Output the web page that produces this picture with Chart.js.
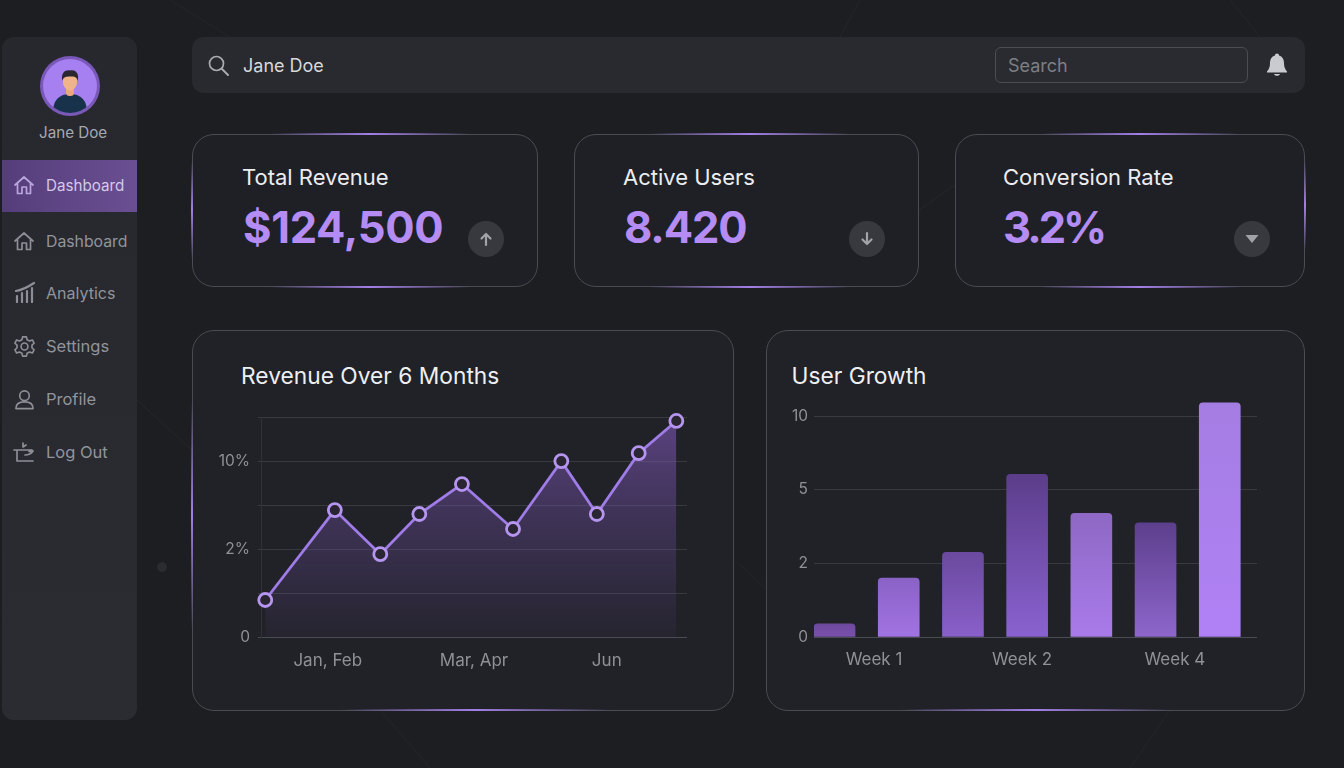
<!DOCTYPE html>
<html>
<head>
<meta charset="utf-8">
<title>Dashboard</title>
<script src="https://cdn.jsdelivr.net/npm/chart.js@4"></script>
<style>
  * { box-sizing: border-box; }
  html, body { margin: 0; width: 1344px; height: 768px; overflow: hidden; background: #1c1e22; font-family: Inter, sans-serif; }
  .abs, .card, .glow, .txt, canvas, svg { position: absolute; }
  .txt { white-space: nowrap; line-height: 1; }
  .sidebar { position: absolute; left: 2px; top: 37px; width: 135px; height: 683px; border-radius: 12px; background: linear-gradient(180deg, #26282d, #2a2c32); }
  .active { position: absolute; left: 2px; top: 160px; width: 135px; height: 52px; background: linear-gradient(90deg, #553d7a, #6a4f92); }
  .topbar { position: absolute; left: 192px; top: 37px; width: 1113px; height: 56px; border-radius: 12px; background: #282a2f; }
  .search { position: absolute; left: 995px; top: 47px; width: 253px; height: 36px; border: 1px solid #4b4d52; border-radius: 6px; background: #292b30; }
  .card { border: 1px solid #4a4b53; border-radius: 22px; background: #1e2025; }
  .card.big { background: #202227; }
  .glow { background: linear-gradient(90deg, transparent, #a27fe6, transparent); height: 2px; }
  .glow.v { background: linear-gradient(180deg, transparent, #a27fe6, transparent); height: auto; width: 2px; }
  .nav { font-size: 16.5px; color: #92949b; }
  .kpi-title { font-size: 22px; color: #ecedf0; }
  .kpi-value { font-size: 43.5px; font-weight: 700; color: #b48cf4; }
  .chart-title { font-size: 22.75px; color: #eeeff2; }
  .dot { position: absolute; width: 36px; height: 36px; border-radius: 50%; background: #38393e; }
  .ico { fill: none; stroke: #8d8f96; stroke-width: 1.7; stroke-linecap: round; stroke-linejoin: round; }
</style>
</head>
<body>

<svg style="left:0;top:0" width="1344" height="768">
  <g stroke="#24262b" stroke-width="1" fill="none">
    <path d="M170 0 L230 37 M860 0 L840 37 M1230 0 L1260 37 M919 210 L955 185 M735 560 L767 590 M380 710 L430 768 M1170 710 L1130 768 M137 400 L192 450"/>
  </g>
  <circle cx="162" cy="567" r="5" fill="#2a2c32"/>
</svg>

<div class="sidebar"></div>
<div class="active"></div>

<svg style="left:40px;top:56px" width="60" height="60" viewBox="0 0 60 60">
  <defs><clipPath id="av"><circle cx="30" cy="30" r="27"/></clipPath></defs>
  <circle cx="30" cy="30" r="30" fill="#7a58b8"/>
  <circle cx="30" cy="30" r="27" fill="#a67ff0"/>
  <g clip-path="url(#av)">
    <path d="M13 56 C13 42 22 38 30 38 C38 38 47 42 47 56 L47 60 L13 60 Z" fill="#17324a"/>
    <rect x="26" y="28" width="8" height="12" rx="3.5" fill="#e9a77c"/>
    <ellipse cx="30" cy="25" rx="7.2" ry="9.5" fill="#f0b48a"/>
    <path d="M22.3 25 C20.5 16 26 13.5 30.5 14.5 C36 13.5 39.5 18 37.7 25 C37 21 34.5 20.5 30 20.5 C26 20.5 23.3 21 22.3 25 Z" fill="#2a2730"/>
  </g>
</svg>
<div class="txt" style="left:39px;top:125px;font-size:15.2px;color:#a7a8ae">Jane Doe</div>

<svg class="ico" style="left:13px;top:174px;stroke:#b9a6dc" width="22" height="22" viewBox="0 0 22 22"><path d="M2 11 L11 3 L20 11 M4.5 9.5 V19.5 H9 V13 H13.5 V19.5 H17.5 V9.5"/></svg>
<div class="txt nav" style="left:46px;top:178px;color:#d4c8ea;font-size:15.2px">Dashboard</div>
<svg class="ico" style="left:13px;top:230px" width="22" height="22" viewBox="0 0 22 22"><path d="M2 11 L11 3 L20 11 M4.5 9.5 V19.5 H9 V13 H13.5 V19.5 H17.5 V9.5"/></svg>
<div class="txt nav" style="left:46px;top:234px;font-size:15.8px">Dashboard</div>
<svg class="ico" style="left:14px;top:281px" width="22" height="22" viewBox="0 0 22 22"><path d="M2 10 C8 9 14 6 20 2 M3 21 V15 M8 21 V12 M13 21 V10 M18 21 V7" stroke-width="2.2"/></svg>
<div class="txt nav" style="left:46px;top:285px;font-size:16px">Analytics</div>
<svg class="ico" style="left:13px;top:335px" width="23" height="23" viewBox="0 0 24 24"><circle cx="12" cy="12" r="3.6"/><path d="M10 2 H14 L14.7 5 L17.3 6.3 L20.2 5.2 L22 8.6 L19.8 10.6 V13.4 L22 15.4 L20.2 18.8 L17.3 17.7 L14.7 19 L14 22 H10 L9.3 19 L6.7 17.7 L3.8 18.8 L2 15.4 L4.2 13.4 V10.6 L2 8.6 L3.8 5.2 L6.7 6.3 L9.3 5 Z"/></svg>
<div class="txt nav" style="left:46px;top:338px">Settings</div>
<svg class="ico" style="left:14px;top:389px" width="21" height="21" viewBox="0 0 22 22"><circle cx="11" cy="7" r="5"/><path d="M2 20.5 C2 15 6 13.5 11 13.5 C16 13.5 20 15 20 20.5 Z"/></svg>
<div class="txt nav" style="left:46px;top:391px">Profile</div>
<svg class="ico" style="left:13px;top:441px" width="23" height="22" viewBox="0 0 23 22"><path d="M1 9 H19 M4 9 V20 H20 M10 2 V6 L13 4 M12 14 C15 14 18 13 20 10 M20 10 L16 10.5"/></svg>
<div class="txt nav" style="left:46px;top:444px">Log Out</div>

<div class="topbar"></div>
<svg class="ico" style="left:207px;top:54px;stroke:#a9abb1" width="23" height="23" viewBox="0 0 23 23"><circle cx="9.5" cy="9.5" r="7"/><path d="M15 15 L21 21" stroke-width="2"/></svg>
<div class="txt" style="left:243px;top:57px;font-size:18px;color:#d7d8dc">Jane Doe</div>
<div class="search"></div>
<div class="txt" style="left:1008px;top:57px;font-size:18px;color:#7d7f85">Search</div>
<svg style="left:1266px;top:52px" width="22" height="26" viewBox="0 0 22 26"><path d="M11 1.5 C12.3 1.5 13 2.4 13 3.4 C16.5 4.4 18 7.4 18 11 C18 15 19 17 21 19.5 V20.5 H1 V19.5 C3 17 4 15 4 11 C4 7.4 5.5 4.4 9 3.4 C9 2.4 9.7 1.5 11 1.5 Z M8 22 H14 C13.5 24.4 8.5 24.4 8 22 Z" fill="#c9cbd1"/></svg>

<!-- KPI cards -->
<div class="card" style="left:192px;top:134px;width:346px;height:153px"></div>
<div class="glow" style="left:270px;top:133px;width:200px"></div>
<div class="glow" style="left:270px;top:286px;width:200px"></div>
<div class="glow v" style="left:191px;top:160px;height:100px"></div>
<div class="txt kpi-title" style="left:242px;top:166px">Total Revenue</div>
<div class="txt kpi-value" style="left:243px;top:206px;letter-spacing:-0.3px">$124,500</div>
<div class="dot" style="left:468px;top:221px"></div>
<svg class="ico" style="left:478px;top:231px;stroke:#a2a3a7" width="16" height="16" viewBox="0 0 16 16"><path d="M8 14 V3 M3.5 7.5 L8 3 L12.5 7.5" stroke-width="2.2"/></svg>

<div class="card" style="left:574px;top:134px;width:345px;height:153px"></div>
<div class="glow" style="left:650px;top:133px;width:200px"></div>
<div class="glow" style="left:650px;top:286px;width:200px"></div>
<div class="txt kpi-title" style="left:623px;top:166px">Active Users</div>
<div class="txt kpi-value" style="left:624px;top:206px;letter-spacing:-1.1px">8.420</div>
<div class="dot" style="left:849px;top:221px"></div>
<svg class="ico" style="left:859px;top:231px;stroke:#a2a3a7" width="16" height="16" viewBox="0 0 16 16"><path d="M8 2 V13 M3.5 8.5 L8 13 L12.5 8.5" stroke-width="2.2"/></svg>

<div class="card" style="left:955px;top:134px;width:350px;height:153px"></div>
<div class="glow" style="left:1040px;top:133px;width:200px"></div>
<div class="glow" style="left:1040px;top:286px;width:200px"></div>
<div class="glow v" style="left:1304px;top:160px;height:90px"></div>
<div class="txt kpi-title" style="left:1003px;top:166px">Conversion Rate</div>
<div class="txt kpi-value" style="left:1003px;top:206px;letter-spacing:-3px">3.2%</div>
<div class="dot" style="left:1234px;top:221px"></div>
<svg style="left:1244px;top:233px" width="16" height="12" viewBox="0 0 16 12"><path d="M1.5 2 H14.5 L8 10 Z" fill="#a2a3a7"/></svg>

<!-- chart cards -->
<div class="card big" style="left:192px;top:330px;width:542px;height:381px"></div>
<div class="glow" style="left:340px;top:709px;width:270px"></div>
<div class="glow v" style="left:191px;top:400px;height:230px"></div>
<div class="txt chart-title" style="left:241px;top:365px">Revenue Over 6 Months</div>
<canvas id="lineChart" style="left:200px;top:405px"></canvas>

<div class="card big" style="left:766px;top:330px;width:539px;height:381px"></div>
<div class="glow" style="left:900px;top:709px;width:270px"></div>
<div class="txt chart-title" style="left:791.5px;top:365px">User Growth</div>
<canvas id="barChart" style="left:775px;top:395px"></canvas>

<script>
// Revenue chart. The y axis is unevenly labelled, so values are in gridline steps
const revenueX = [0.06, 1.04, 1.68, 2.23, 2.83, 3.55, 4.23, 4.73, 5.32, 5.85];
const revenueY = [0.85, 2.89, 1.89, 2.80, 3.48, 2.46, 4.00, 2.80, 4.18, 4.91];
const revenueYLabels = ["0", "", "2%", "", "10%", ""];
const revenueXLabels = ["Jan, Feb", "Mar, Apr", "Jun"];
const revenueXTicks = [0.94, 3.0, 4.87];

// User growth chart, same idea: y is in gridline steps
const growthX = [0, 1, 2, 3, 4, 5, 6];
const growthY = [0.18, 0.80, 1.15, 2.21, 1.68, 1.55, 3.18];
const growthYLabels = ["0", "2", "5", "10"];
const growthXLabels = ["Week 1", "Week 2", "Week 4"];
const growthXTicks = [0.615, 2.92, 5.3];

// Bar colours, top and bottom of each gradient
const barTop = ["#6d4a9c", "#8a62c6", "#6a4a9e", "#5b3d8a", "#8e68c4", "#5c3f8c", "#a47de2"];
const barBottom = ["#7a50ac", "#a273e2", "#8a5fca", "#8a62d0", "#a97bea", "#8e66cc", "#b081f5"];

const tickFont = { family: "Inter", size: 17 };
const tickColor = "#8f9197";
const gridColor = "#383a40";

function setSize(canvas, w, h) {
  canvas.style.width = w + "px";
  canvas.style.height = h + "px";
  canvas.width = w;
  canvas.height = h;
}

// stop the tick labels from pushing the plot area around
function noPadding(axis) {
  axis.paddingTop = 0;
  axis.paddingBottom = 0;
  axis.paddingLeft = 0;
  axis.paddingRight = 0;
}

function areaFill(context) {
  const { chart } = context;
  if (!chart.chartArea) return "transparent";
  const y = chart.scales.y;
  const g = chart.ctx.createLinearGradient(0, y.getPixelForValue(4.91), 0, y.getPixelForValue(0));
  g.addColorStop(0, "rgba(129, 89, 186, 0.6)");
  g.addColorStop(0.45, "rgba(120, 83, 174, 0.35)");
  g.addColorStop(1, "rgba(120, 83, 174, 0.06)");
  return g;
}

function barFill(context) {
  const { chart, dataIndex } = context;
  if (!chart.chartArea || dataIndex === undefined) return barBottom[0];
  const y = chart.scales.y;
  const g = chart.ctx.createLinearGradient(0, y.getPixelForValue(growthY[dataIndex]), 0, y.getPixelForValue(0));
  g.addColorStop(0, barTop[dataIndex]);
  g.addColorStop(1, barBottom[dataIndex]);
  return g;
}

setSize(document.getElementById("lineChart"), 520, 270);
setSize(document.getElementById("barChart"), 520, 285);

new Chart(document.getElementById("lineChart"), {
  type: "line",
  data: {
    datasets: [{
      data: revenueX.map((x, i) => ({ x, y: revenueY[i] })),
      borderColor: "#a07ce8",
      borderWidth: 2.8,
      backgroundColor: areaFill,
      fill: "origin",
      tension: 0,
      clip: false,
      pointRadius: 6.5,
      pointBorderWidth: 2.8,
      pointBorderColor: "#b595f0",
      pointBackgroundColor: "#2a2532",
    }],
  },
  options: {
    responsive: false,
    animation: false,
    layout: { padding: { top: 12, right: 33, left: 0, bottom: 0 } },
    plugins: { legend: { display: false }, tooltip: { enabled: false } },
    scales: {
      x: {
        type: "linear",
        min: 0,
        max: 6,
        afterBuildTicks: (axis) => { axis.ticks = revenueXTicks.map((value) => ({ value })); },
        afterFit: (axis) => { axis.height = 37.5; noPadding(axis); },
        grid: { display: false },
        border: { display: false },
        ticks: {
          autoSkip: false,
          maxRotation: 0,
          padding: 5,
          font: tickFont,
          color: tickColor,
          callback: (v) => revenueXLabels[revenueXTicks.indexOf(v)],
        },
      },
      y: {
        min: 0,
        max: 5,
        afterBuildTicks: (axis) => { axis.ticks = revenueYLabels.map((_, value) => ({ value })); },
        afterFit: (axis) => { axis.width = 61; noPadding(axis); },
        grid: {
          color: (c) => (c.index === 0 ? "#4a4c54" : gridColor),
          drawTicks: true,
          tickLength: 3,
        },
        border: { display: true, color: "#303238" },
        ticks: {
          padding: 8,
          font: { family: "Inter", size: 15.5 },
          color: tickColor,
          callback: (v) => revenueYLabels[v],
        },
      },
    },
  },
});

new Chart(document.getElementById("barChart"), {
  type: "bar",
  data: {
    datasets: [{
      data: growthX.map((x, i) => ({ x, y: growthY[i] })),
      backgroundColor: barFill,
      barThickness: 41,
      borderRadius: { topLeft: 4, topRight: 4 },
      borderSkipped: "bottom",
    }],
  },
  options: {
    responsive: false,
    animation: false,
    layout: { padding: { top: 6.3, right: 38, left: 0, bottom: 0 } },
    plugins: { legend: { display: false }, tooltip: { enabled: false } },
    scales: {
      x: {
        type: "linear",
        offset: false,
        min: -0.32,
        max: 6.58,
        afterBuildTicks: (axis) => { axis.ticks = growthXTicks.map((value) => ({ value })); },
        afterFit: (axis) => { axis.height = 43; noPadding(axis); },
        grid: { display: false },
        border: { display: false },
        ticks: {
          autoSkip: false,
          maxRotation: 0,
          padding: 5,
          font: tickFont,
          color: tickColor,
          callback: (v) => growthXLabels[growthXTicks.indexOf(v)],
        },
      },
      y: {
        min: 0,
        max: 3.2,
        afterBuildTicks: (axis) => { axis.ticks = growthYLabels.map((_, value) => ({ value })); },
        afterFit: (axis) => { axis.width = 39; noPadding(axis); },
        grid: { color: (c) => (c.index === 0 ? "#4a4c54" : gridColor), drawTicks: false },
        border: { display: false },
        ticks: {
          padding: 6,
          font: { family: "Inter", size: 15.5 },
          color: tickColor,
          callback: (v) => growthYLabels[v],
        },
      },
    },
  },
});
</script>
</body>
</html>
